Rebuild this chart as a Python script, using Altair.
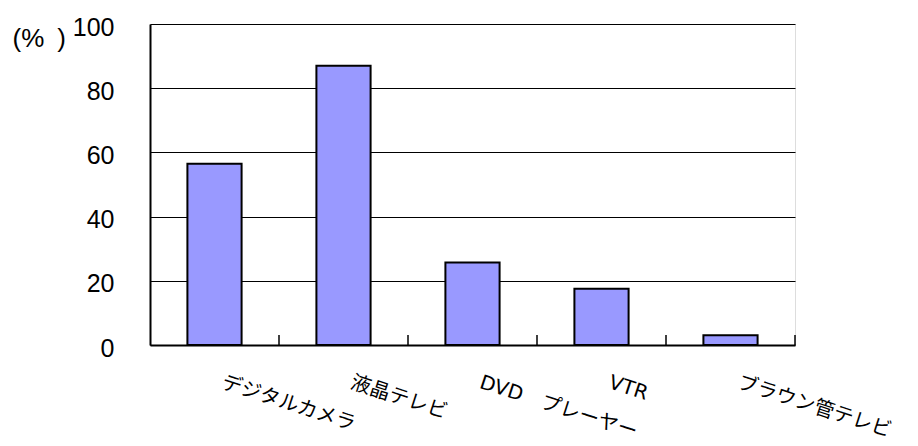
import altair as alt
import pandas as pd

categories = ["デジタルカメラ", "液晶テレビ", "DVD　プレーヤー", "VTR", "ブラウン管テレビ"]
values = [56.5, 87.0, 25.7, 17.5, 3.0]
y_ticks = [0, 20, 40, 60, 80, 100]
boundaries = [1, 2, 3, 4, 5]

df = pd.DataFrame({"cat": categories, "val": values})
tick_df = pd.DataFrame({"pos": boundaries})

W, H = 645, 321

xscale = alt.Scale(domain=categories, paddingInner=0.58, paddingOuter=0.29)
yscale = alt.Scale(domain=[0, 100])

bars = alt.Chart(df).mark_bar(fill="#9999FF", stroke="black", strokeWidth=2).encode(
    x=alt.X("cat:N", sort=categories, scale=xscale,
            axis=alt.Axis(title=None, labelAngle=18, labelAlign="left", labelBaseline="top",
                          labelPadding=27, labelOffset=11, ticks=False, domain=True,
                          domainColor="black", domainWidth=2,
                          labelFont="DejaVu Sans, Noto Sans CJK JP",
                          labelFontSize=20, labelColor="black", grid=False)),
    y=alt.Y("val:Q", scale=yscale,
            axis=alt.Axis(title="(%\u2002)", titleAngle=0, titleAlign="left", titleBaseline="middle",
                          titleX=-138, titleY=14, titleFont="Liberation Sans", titleFontSize=26,
                          titleFontWeight="normal", titleColor="black",
                          values=y_ticks, ticks=False, labelPadding=36, labelFont="Liberation Sans",
                          labelFontSize=25, labelColor="black", labelOffset=3,
                          domainColor="black", domainWidth=2, grid=True, gridColor="black",
                          gridWidth=1.2, gridOpacity=1)),
)

ticks = alt.Chart(tick_df).mark_rule(color="black", strokeWidth=1.5).encode(
    x=alt.X("pos:Q", scale=alt.Scale(domain=[0, 5], nice=False, zero=False), axis=None),
    y=alt.value(H - 10),
    y2=alt.value(H),
)

chart = alt.layer(bars, ticks).resolve_scale(x="independent").properties(
    width=W, height=H,
    autosize=alt.AutoSizeParams(type="none"),
    padding={"left": 150, "top": 24, "right": 123, "bottom": 101},
).configure_view(stroke="#8c8c8c", strokeWidth=2).configure(background="white")

chart.save("out.html", embed_options={"renderer": "svg", "actions": False})
